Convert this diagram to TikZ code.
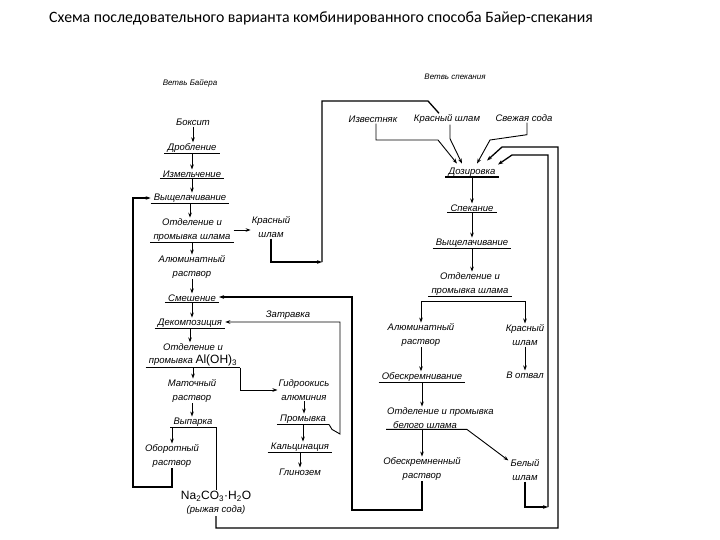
\documentclass[tikz,border=0pt]{standalone}
\usepackage{fontspec}
\setmainfont{Liberation Sans}
\newfontfamily\titlefont{Carlito}
\usetikzlibrary{arrows.meta}
\begin{document}
\begin{tikzpicture}[x=1pt,y=-1pt,
  lbl/.style={font=\fontsize{9.5}{13.5}\selectfont\itshape, align=center, inner xsep=1pt, inner ysep=1pt},
  ul/.style={lbl, inner xsep=3pt},
  small/.style={font=\fontsize{8}{10}\selectfont\itshape, inner sep=1pt},
  uline/.style={line width=1.2pt},
  arr/.style={-{Stealth[length=5pt,width=3.6pt]}, line width=0.9pt},
  lp/.style={line width=1.3pt}]
\fill[white] (0,0) rectangle (720,540);
\useasboundingbox (0,0) rectangle (720,540);

\node[font=\titlefont\fontsize{15.8}{18}\selectfont] (title) at (321,18) {Схема последовательного варианта комбинированного способа Байер-спекания};

% ---- Bayer branch
\node[small] (vb) at (190,83) {Ветвь Байера};
\node[lbl] (boks) at (193,122) {Боксит};
\node[ul] (drob) at (192,148) {Дробление};
\node[ul] (izm) at (192,174) {Измельчение};
\node[ul] (vysh1) at (190,198) {Выщелачивание};
\node[ul] (otd1) at (192,230) {Отделение и\\промывка шлама};
\node[lbl] (ksh1) at (271,227) {Красный\\шлам};
\node[lbl] (alr1) at (192,267) {Алюминатный\\раствор};
\node[ul] (smesh) at (192,298) {Смешение};
\node[ul] (dek) at (190,323) {Декомпозиция};
\node[ul] (otd2) at (193,355) {Отделение и\\промывка {\upshape\fontsize{12}{12}\selectfont Al(OH)\textsubscript{3}}};
\node[lbl] (mat) at (192,391) {Маточный\\раствор};
\node[ul] (vyp) at (193,422) {Выпарка};
\node[lbl] (obor) at (172,456) {Оборотный\\раствор};
\node[lbl] (na) at (216,503) {{\upshape\fontsize{12}{12}\selectfont Na\textsubscript{2}CO\textsubscript{3}·H\textsubscript{2}O}\\(рыжая сода)};
\node[lbl] (gidr) at (304,390) {Гидроокись\\алюминия};
\node[ul] (prom) at (303,419) {Промывка};
\node[ul] (kalc) at (300,447) {Кальцинация};
\node[lbl] (glin) at (300,472) {Глинозем};
\node[lbl] (zatr) at (288,315) {Затравка};

% ---- sintering branch
\node[small] (vs) at (455,77) {Ветвь спекания};
\node[lbl] (izv) at (373,119) {Известняк};
\node[lbl] (ksh2) at (447,119) {Красный шлам};
\node[lbl] (sveg) at (524,118) {Свежая сода};
\node[ul] (doz) at (472,172) {Дозировка};
\node[ul] (spek) at (472,208) {Спекание};
\node[ul] (vysh2) at (472,243) {Выщелачивание};
\node[ul] (otd3) at (470,284) {Отделение и\\промывка шлама};
\node[lbl] (alr2) at (421,335) {Алюминатный\\раствор};
\node[lbl] (ksh3) at (525,335) {Красный\\шлам};
\node[lbl] (otv) at (525,375) {В отвал};
\node[ul] (obesk) at (422,377) {Обескремнивание};
\node[lbl, align=left, anchor=west] (otd4) at (386,418) {Отделение и промывка\\\hspace*{6pt}белого шлама};
\node[lbl] (obr) at (422,469) {Обескремненный\\раствор};
\node[lbl] (bsh) at (525,470) {Белый\\шлам};

% underlines
\foreach \n in {drob,izm,vysh1,otd1,smesh,dek,otd2,vyp,prom,kalc,spek,vysh2,otd3,obesk}
  \draw[uline] (\n.south west) -- (\n.south east);
\draw[line width=2pt] (doz.south west) -- (doz.south east);

% straight arrows
\foreach \a/\b in {boks/drob, drob/izm, izm/vysh1, vysh1/otd1, otd1/alr1, alr1/smesh,
  smesh/dek, dek/otd2, otd2/mat, mat/vyp, gidr/prom, prom/kalc, kalc/glin,
  doz/spek, spek/vysh2, vysh2/otd3, ksh3/otv, alr2/obesk, obesk/otd4}
  \draw[arr] (\a.south) -- (\a.south |- \b.north);

% Bayer branch side connections
\draw[arr] (otd1.east) -- (otd1.east -| ksh1.west);
\coordinate (c1) at (322,262);
\coordinate (c2) at (322,101);
\coordinate (c3) at (428,101);
\draw[arr,lp] (ksh1.south) |- (c1);
\draw[lp] (c1) -- (c2) -- (c3) -- ([xshift=-8pt]ksh2.north);

\draw[arr] (otd2.south east) |- (gidr.west);
\coordinate (z1) at (340,434);
\coordinate (z2) at (340,322);
\draw[arr] (prom.south east) -- ++(3,5) -- (z1) -- (z2) -- (z2 -| dek.east);

\coordinate (s1) at (352,510);
\coordinate (s2) at (352,297);
\draw[arr,lp] (obr.south) |- (s1) -- (s2) -- (s2 -| smesh.east);

\draw[arr] (vyp.south -| obor.north) -- (obor.north);
\draw[line width=0.9pt] (vyp.south -| na.north) -- (na.north);

\coordinate (o1) at (133,487);
\draw[arr,lp] (obor.south) |- (o1) |- (vysh1.west);

\coordinate (n1) at (558,528);
\coordinate (n2) at (502,147);
\draw[arr,lp] (na.south) |- (n1) |- (n2) -- ([xshift=15pt,yshift=6pt]doz.north);

% inputs to Дозировка
\coordinate (i1) at (438,140);
\draw[arr] ([xshift=3pt]izv.south) |- (i1) -- ([xshift=-15pt,yshift=3pt]doz.north);
\draw[arr] ([xshift=3pt]ksh2.south) -- ++(0,14) -- ([xshift=-10pt,yshift=3pt]doz.north);
\coordinate (sv1) at (490,140);
\draw[arr] ([xshift=3pt]sveg.south) -- ++(0,12) -- (sv1) -- ([xshift=5pt,yshift=3pt]doz.north);

% sintering split
\draw[arr] ([yshift=-5pt]otd3.south -| ksh3.north) -| (alr2.north);
\draw[arr] ([yshift=-5pt]otd3.south -| ksh3.north) -- (ksh3.north);

\draw[arr] (otd4.south west) -- ++(81,0) -- ([xshift=-1pt,yshift=-2pt]bsh.north west);
\draw[arr] (otd4.south -| obr.north) -- (obr.north);

\coordinate (b1) at (548,507);
\coordinate (b2) at (548,155);
\coordinate (b3) at (512,155);
\draw[arr,lp] (bsh.south) |- (b1);
\draw[arr,lp] (b1) -- (b2) -- (b3) -- ([xshift=26pt,yshift=2pt]doz.north);
\end{tikzpicture}
\end{document}
